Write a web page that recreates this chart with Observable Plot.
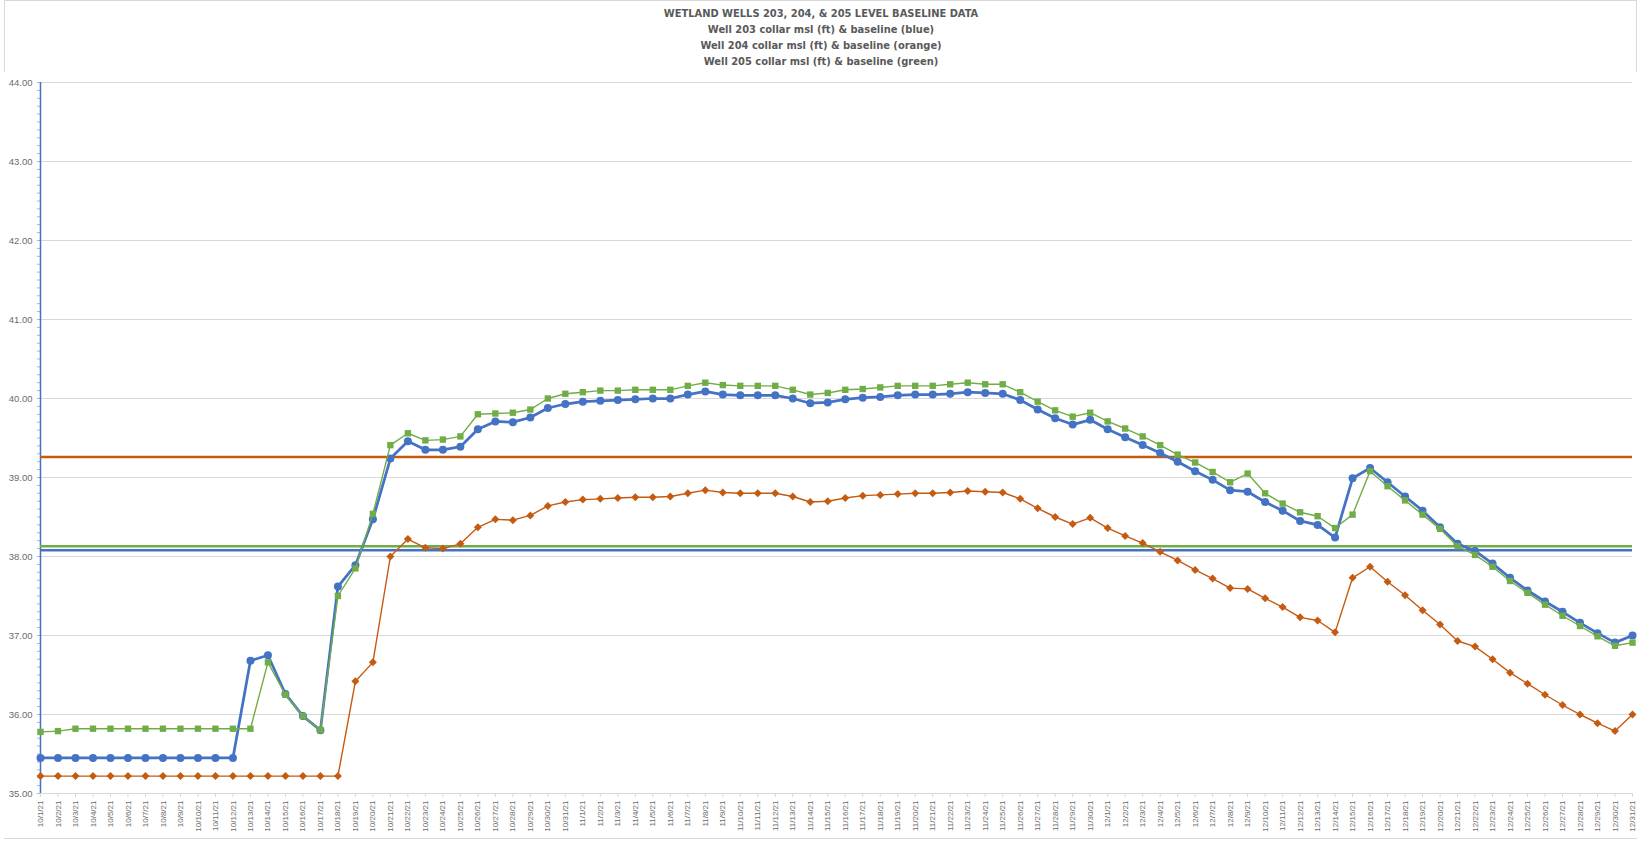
<!DOCTYPE html>
<html><head><meta charset="utf-8">
<script src="https://cdn.jsdelivr.net/npm/d3@7"></script>
<script src="https://cdn.jsdelivr.net/npm/@observablehq/plot@0.6"></script>
<style>
body{margin:0;background:#fff;}
#frame{position:absolute;left:4px;top:0;width:1633px;height:839px;border:1px solid #d9d9d9;box-sizing:border-box;pointer-events:none;}
#title{position:relative;height:72px;padding-top:6px;box-sizing:border-box;text-align:center;font-family:"Liberation Sans Narrow","Arial Narrow","DejaVu Sans Condensed",sans-serif;font-weight:bold;font-size:11px;line-height:16px;color:#595959;}
#chart{position:relative;}
</style></head><body>
<div id="frame"></div>
<div id="title">
<div>WETLAND WELLS 203, 204, &amp; 205 LEVEL BASELINE DATA</div>
<div>Well 203 collar msl (ft) &amp; baseline (blue)</div>
<div>Well 204 collar msl (ft) &amp; baseline (orange)</div>
<div>Well 205 collar msl (ft) &amp; baseline (green)</div>
</div>
<div id="chart"></div>
<script>
// Categories: daily dates 10/1/21 .. 12/31/21
const days = d3.utcDay.range(new Date(Date.UTC(2021,9,1)), new Date(Date.UTC(2022,0,1)));
const labels = days.map(d => `${d.getUTCMonth()+1}/${d.getUTCDate()}/21`);

const well203 = [35.45,35.45,35.45,35.45,35.45,35.45,35.45,35.45,35.45,35.45,35.45,35.45,
36.68,36.75,36.26,35.98,35.80,37.62,37.89,38.47,39.24,39.46,39.35,39.35,39.39,39.61,39.71,39.70,39.76,39.88,
39.93,39.96,39.97,39.98,39.99,40.00,40.00,40.05,40.09,40.05,40.04,40.04,40.04,40.00,39.94,39.95,39.99,40.01,
40.02,40.04,40.05,40.05,40.06,40.08,40.07,40.06,39.98,39.86,39.75,39.67,39.73,39.61,39.51,39.41,39.31,39.20,
39.08,38.97,38.84,38.82,38.69,38.58,38.45,38.40,38.24,38.99,39.12,38.94,38.76,38.58,38.37,38.16,38.07,37.91,
37.73,37.57,37.43,37.30,37.16,37.03,36.91,37.00];

const well204 = [35.22,35.22,35.22,35.22,35.22,35.22,35.22,35.22,35.22,35.22,35.22,35.22,35.22,35.22,35.22,35.22,35.22,35.22,
36.42,36.66,38.00,38.22,38.11,38.10,38.16,38.37,38.47,38.46,38.52,38.64,38.69,38.72,38.73,38.74,38.75,38.75,
38.76,38.80,38.84,38.81,38.80,38.80,38.80,38.76,38.69,38.70,38.74,38.77,38.78,38.79,38.80,38.80,38.81,38.83,
38.82,38.81,38.73,38.61,38.50,38.41,38.49,38.36,38.26,38.17,38.06,37.95,37.83,37.72,37.60,37.59,37.47,37.36,
37.23,37.19,37.04,37.73,37.87,37.68,37.51,37.32,37.14,36.93,36.86,36.70,36.53,36.39,36.25,36.12,36.00,35.89,
35.79,36.00];

const well205 = [35.78,35.79,35.82,35.82,35.82,35.82,35.82,35.82,35.82,35.82,35.82,35.82,35.82,
36.66,36.25,35.98,35.80,37.50,37.85,38.54,39.41,39.56,39.47,39.48,39.52,39.80,39.81,39.82,39.86,40.00,
40.06,40.08,40.10,40.10,40.11,40.11,40.11,40.16,40.20,40.17,40.16,40.16,40.16,40.11,40.05,40.07,40.11,40.12,
40.14,40.16,40.16,40.16,40.18,40.20,40.18,40.18,40.08,39.96,39.85,39.77,39.82,39.71,39.62,39.52,39.41,39.29,
39.19,39.07,38.94,39.05,38.80,38.67,38.56,38.51,38.36,38.53,39.08,38.89,38.71,38.53,38.35,38.13,38.02,37.87,
37.69,37.54,37.39,37.25,37.12,36.99,36.87,36.91];

const baselines = [
  {well:"203", value:38.08, color:"#4472C4"},
  {well:"204", value:39.26, color:"#C55A11"},
  {well:"205", value:38.13, color:"#70AD47"}
];

const yTicks = [35,36,37,38,39,40,41,42,43,44];
const yMinor = d3.range(350, 441, 1).map(v => v / 10);

const rows = labels.map((d, i) => ({date: d, w203: well203[i], w204: well204[i], w205: well205[i]}));

const chart = Plot.plot({
  width: 1642, height: 766,
  marginTop: 10, marginBottom: 45, marginLeft: 40, marginRight: 10,
  x: {type: "point", domain: labels, padding: 0},
  y: {domain: [35, 44]},
  style: {fontFamily: "'Liberation Sans', Arial, sans-serif", color: "#6b6b6b", background: "white", overflow: "visible"},
  marks: [
    Plot.gridY(yTicks, {stroke: "#d9d9d9", strokeOpacity: 1, strokeWidth: 1}),
    Plot.axisY(yMinor, {tickFormat: () => "", tickSize: 3, stroke: "#9db4e0", label: null}),
    Plot.axisY(yTicks, {tickFormat: d => d.toFixed(2), tickSize: 0, tickPadding: 8, fontSize: 9.5, label: null}),
    Plot.ruleY([35], {stroke: "#d9d9d9", strokeWidth: 1}),
    Plot.axisX(labels, {tickRotate: -90, fontSize: 8, tickSize: 4, tickPadding: 3, stroke: "#d9d9d9", label: null}),
    Plot.ruleX([labels[0]], {y1: 35, y2: 44, stroke: "#4472C4", strokeWidth: 1.5}),
    Plot.ruleY(baselines, {y: "value", stroke: "color", strokeWidth: 2.5}),
    Plot.line(rows, {x: "date", y: "w203", stroke: "#4472C4", strokeWidth: 2.75}),
    Plot.dot(rows, {x: "date", y: "w203", fill: "#4472C4", r: 4, symbol: "circle"}),
    Plot.line(rows, {x: "date", y: "w204", stroke: "#C55A11", strokeWidth: 1.4}),
    Plot.dot(rows, {x: "date", y: "w204", fill: "#C55A11", r: 3.6, symbol: "diamond2"}),
    Plot.line(rows, {x: "date", y: "w205", stroke: "#70AD47", strokeWidth: 1.4}),
    Plot.dot(rows, {x: "date", y: "w205", fill: "#70AD47", r: 3.6, symbol: "square"})
  ]
});
document.getElementById("chart").appendChild(chart);
</script>
</body></html>
